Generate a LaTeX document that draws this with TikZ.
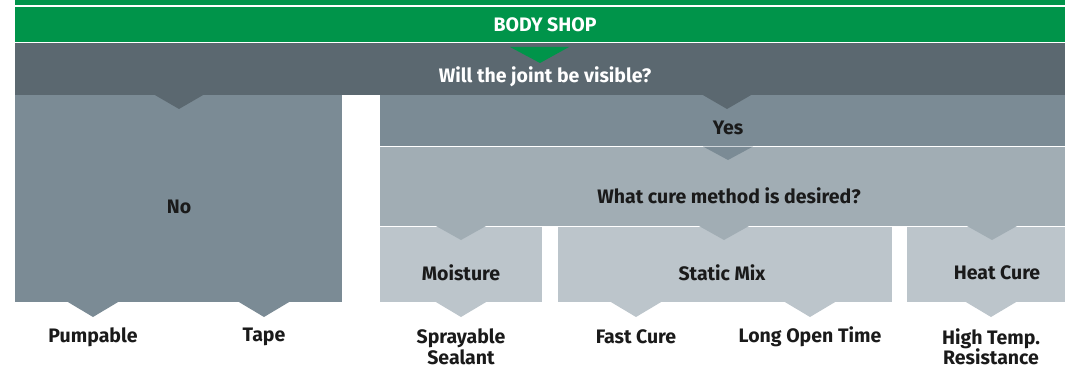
\documentclass[tikz,border=0pt]{standalone}
\usepackage{fontspec}
\setmainfont{Fira Sans}
\usetikzlibrary{calc}
\definecolor{bsgreen}{HTML}{00944A}
\definecolor{slate}{HTML}{5B6870}
\definecolor{midgray}{HTML}{7B8B95}
\definecolor{lightgray}{HTML}{A1ADB4}
\definecolor{palegray}{HTML}{BCC5CB}
\definecolor{ink}{HTML}{1A1A1A}
\begin{document}
\begin{tikzpicture}[x=1pt,y=-1pt,
  box/.style={rectangle, draw=none, inner sep=0pt, outer sep=0pt, anchor=north west},
  lbl/.style={font=\bfseries\fontsize{19.5}{20.5}\selectfont, text=ink, align=center, inner sep=0pt},
  wlbl/.style={lbl, text=white}]
\useasboundingbox (0,0) rectangle (1065,369);
% green bands
\node[box, fill=bsgreen, minimum width=1050pt, minimum height=5.5pt] (strip) at (15,0) {};
\node[box, fill=bsgreen, minimum width=1050pt, minimum height=35pt] (shop) at (15,7.3) {};
% dark band
\node[box, fill=slate, minimum width=1050pt, minimum height=52pt] (joint) at (15,43) {};
% No box
\node[box, fill=midgray, minimum width=327pt, minimum height=207pt] (nobox) at (15,95) {};
% Yes band
\node[box, fill=midgray, minimum width=685pt, minimum height=51pt] (yesbox) at (380,95) {};
% cure band
\node[box, fill=lightgray, minimum width=685pt, minimum height=79pt] (curebox) at (380,147) {};
% bottom boxes
\node[box, fill=palegray, minimum width=162pt, minimum height=75pt] (moist) at (380,227) {};
\node[box, fill=palegray, minimum width=334pt, minimum height=75pt] (static) at (558,227) {};
\node[box, fill=palegray, minimum width=158pt, minimum height=75pt] (heat) at (907,227) {};
% pointers
\fill[bsgreen] (510,47) -- (569,47) -- (540,63) -- cycle;
\fill[slate] (154,94.5) -- (204,94.5) -- (179,109) -- cycle;
\fill[slate] (702,94.5) -- (752,94.5) -- (727,109) -- cycle;
\fill[midgray] (703,146.5) -- (753,146.5) -- (728,160) -- cycle;
\fill[lightgray] (436,226) -- (486,226) -- (461,240) -- cycle;
\fill[lightgray] (699,226) -- (749,226) -- (724,240) -- cycle;
\fill[lightgray] (967,226) -- (1017,226) -- (992,240) -- cycle;
\fill[midgray] (67,301.5) -- (119,301.5) -- (93,317) -- cycle;
\fill[midgray] (238,301.5) -- (290,301.5) -- (264,317) -- cycle;
\fill[palegray] (435,301.5) -- (487,301.5) -- (461,317) -- cycle;
\fill[palegray] (610,301.5) -- (662,301.5) -- (636,317) -- cycle;
\fill[palegray] (784,301.5) -- (836,301.5) -- (810,317) -- cycle;
\fill[palegray] (965,301.5) -- (1017,301.5) -- (991,317) -- cycle;
% labels
\node[wlbl] (tshop) at (545,25) {BODY SHOP};
\node[wlbl] (tjoint) at (545,77) {Will the joint be visible?};
\node[lbl] (tno) at (179,207) {No};
\node[lbl] (tyes) at (728,128) {Yes};
\node[lbl] (tcure) at (729,196) {What cure method is desired?};
\node[lbl] (tmoist) at (461,273) {Moisture};
\node[lbl] (tstatic) at (722,273) {Static Mix};
\node[lbl] (theat) at (997,273) {Heat Cure};
\node[lbl] (tpump) at (93,337) {Pumpable};
\node[lbl] (ttape) at (264,337) {Tape};
\node[lbl] (tspray) at (461,347) {Sprayable\\Sealant};
\node[lbl] (tfast) at (636,337) {Fast Cure};
\node[lbl] (tlong) at (810,337) {Long Open Time};
\node[lbl] (thigh) at (991,347) {High Temp.\\Resistance};
\end{tikzpicture}
\end{document}
